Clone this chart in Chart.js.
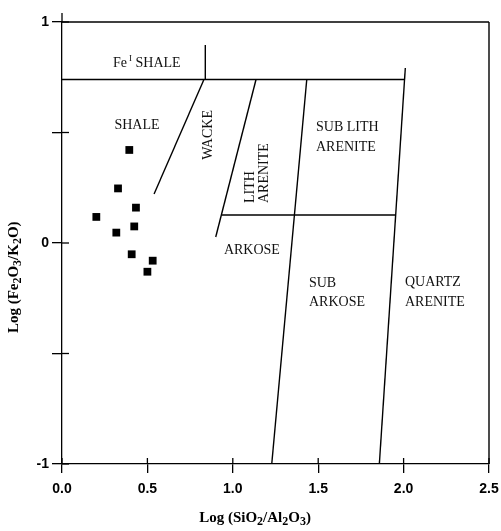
<!DOCTYPE html>
<html><head><meta charset="utf-8">
<script src="https://cdn.jsdelivr.net/npm/chart.js@4/dist/chart.umd.min.js"></script>
<style>html,body{margin:0;padding:0;background:#fff;overflow:hidden}#wrap{width:501px;height:531px}</style>
</head><body><div id="wrap"><canvas id="c" width="501" height="531"></canvas></div>
<script>
// ---- data ----
const sampleX = [0.394, 0.328, 0.433, 0.201, 0.423, 0.318, 0.408, 0.531, 0.500];
const sampleY = [0.421, 0.247, 0.160, 0.118, 0.075, 0.047, -0.051, -0.080, -0.130];
const xTicks = [0, 0.5, 1.0, 1.5, 2.0, 2.5];
const yTicks = [-1, -0.5, 0, 0.5, 1];
const yTickLabels = {"-1": "-1", "0": "0", "1": "1"};
// field boundaries [x1, y1, x2, y2] in data units
const boundaries = [
  [0, 0.74, 2.006, 0.74],
  [0.839, 0.896, 0.839, 0.74],
  [0.831, 0.74, 0.539, 0.222],
  [1.136, 0.74, 0.900, 0.027],
  [0.935, 0.127, 1.953, 0.127],
  [1.433, 0.74, 1.228, -1],
  [2.010, 0.792, 1.858, -1]
];
const frame = [
  [0, 1, 2.5, 1],
  [2.5, 1, 2.5, -1]
];
// field labels: text, x, y, rotated, align
const fieldLabels = [
  ["SHALE", 0.439, 0.534, false, "center"],
  ["WACKE", 0.855, 0.489, true, "center"],
  ["LITH", 1.101, 0.181, true, "left"],
  ["ARENITE", 1.183, 0.181, true, "left"],
  ["SUB LITH", 1.487, 0.525, false, "left"],
  ["ARENITE", 1.487, 0.434, false, "left"],
  ["ARKOSE", 0.948, -0.032, false, "left"],
  ["SUB", 1.446, -0.181, false, "left"],
  ["ARKOSE", 1.446, -0.267, false, "left"],
  ["QUARTZ", 2.008, -0.176, false, "left"],
  ["ARENITE", 2.008, -0.267, false, "left"]
];
const feLabel = {main: "Fe", sup: "I", rest: " SHALE", x: 0.299, y: 0.814};
// axis titles as [text, subscript?] runs
const xTitle = [["Log (SiO", 0], ["2", 1], ["/Al", 0], ["2", 1], ["O", 0], ["3", 1], [")", 0]];
const yTitle = [["Log (Fe", 0], ["2", 1], ["O", 0], ["3", 1], ["/K", 0], ["2", 1], ["O)", 0]];

const segDatasets = boundaries.concat(frame).map(b => ({
  data: [{x: b[0], y: b[1]}, {x: b[2], y: b[3]}],
  showLine: true, borderColor: "#000", borderWidth: 1.4,
  pointRadius: 0, fill: false, clip: false
}));

function runs(ctx, parts, cx, cy) {
  const mainF = "bold 15px 'Liberation Serif'", subF = "bold 12px 'Liberation Serif'";
  let w = 0;
  parts.forEach(p => { ctx.font = p[1] ? subF : mainF; w += ctx.measureText(p[0]).width; });
  let x = cx - w / 2;
  ctx.textAlign = "left";
  parts.forEach(p => {
    ctx.font = p[1] ? subF : mainF;
    ctx.fillText(p[0], x, cy + (p[1] ? 4 : 0));
    x += ctx.measureText(p[0]).width;
  });
}

const labelPlugin = {
  id: "labels",
  afterDraw(chart) {
    const ctx = chart.ctx, xs = chart.scales.x, ys = chart.scales.y;
    const ax = xs.getPixelForValue(0), ay = ys.getPixelForValue(-1);
    ctx.save();
    ctx.strokeStyle = "#000"; ctx.lineWidth = 1.3;
    ctx.beginPath(); ctx.moveTo(ax, ys.getPixelForValue(1)); ctx.lineTo(ax, ys.getPixelForValue(1) - 9); ctx.stroke();
    xTicks.forEach(v => { const p = xs.getPixelForValue(v); ctx.beginPath(); ctx.moveTo(p, ay); ctx.lineTo(p, ay - 6); ctx.stroke(); });
    yTicks.forEach(v => { const p = ys.getPixelForValue(v); ctx.beginPath(); ctx.moveTo(ax, p); ctx.lineTo(ax + 7, p); ctx.stroke(); });
    ctx.fillStyle = "#111";
    ctx.font = "14px 'Liberation Serif'";
    ctx.textBaseline = "middle";
    fieldLabels.forEach(l => {
      const px = xs.getPixelForValue(l[1]), py = ys.getPixelForValue(l[2]);
      ctx.save();
      ctx.translate(px, py);
      if (l[3]) ctx.rotate(-Math.PI / 2);
      ctx.textAlign = l[4];
      ctx.fillText(l[0], 0, 0);
      ctx.restore();
    });
    let fx = xs.getPixelForValue(feLabel.x), fy = ys.getPixelForValue(feLabel.y);
    ctx.textAlign = "left";
    ctx.fillText(feLabel.main, fx, fy); fx += ctx.measureText(feLabel.main).width + 2;
    ctx.font = "9px 'Liberation Serif'";
    ctx.fillText(feLabel.sup, fx, fy - 4); fx += ctx.measureText(feLabel.sup).width;
    ctx.font = "14px 'Liberation Serif'";
    ctx.fillText(feLabel.rest, fx, fy);
    ctx.fillStyle = "#000";
    runs(ctx, xTitle, xs.getPixelForValue(1.13), 518);
    ctx.save();
    ctx.translate(14, ys.getPixelForValue(-0.155));
    ctx.rotate(-Math.PI / 2);
    runs(ctx, yTitle, 0, 0);
    ctx.restore();
    ctx.restore();
  }
};

new Chart(document.getElementById("c"), {
  type: "scatter",
  data: {
    datasets: [{
      data: sampleX.map((x, i) => ({x: x, y: sampleY[i]})),
      pointStyle: "rect", pointRadius: 5.5, backgroundColor: "#000",
      borderColor: "#000", borderWidth: 0, showLine: false
    }].concat(segDatasets)
  },
  options: {
    responsive: false, animation: false,
    layout: {padding: {top: 22, right: 12, left: 0, bottom: 0}},
    plugins: {legend: {display: false}, tooltip: {enabled: false}},
    scales: {
      x: {
        type: "linear", min: 0, max: 2.5,
        afterBuildTicks: s => { s.ticks = xTicks.map(v => ({value: v})); },
        afterFit: s => { s.height = 67; s.paddingLeft = 0; s.paddingRight = 0; },
        ticks: {color: "#000", font: {family: "'Liberation Sans'", size: 14, weight: "bold"},
                padding: 8, maxRotation: 0, autoSkip: false, callback: v => Number(v).toFixed(1)},
        grid: {drawOnChartArea: false, drawTicks: true, tickLength: 9, color: "#000", lineWidth: 1.3},
        border: {color: "#000", width: 1.3}
      },
      y: {
        type: "linear", min: -1, max: 1,
        afterBuildTicks: s => { s.ticks = yTicks.map(v => ({value: v})); },
        afterFit: s => { s.width = 62; s.paddingTop = 0; s.paddingBottom = 0; },
        ticks: {color: "#000", font: {family: "'Liberation Sans'", size: 14, weight: "bold"},
                padding: 3, autoSkip: false, callback: v => (yTickLabels[String(v)] !== undefined ? yTickLabels[String(v)] : "")},
        grid: {drawOnChartArea: false, drawTicks: true, tickLength: 10, color: "#000", lineWidth: 1.3},
        border: {color: "#000", width: 1.3}
      }
    }
  },
  plugins: [labelPlugin]
});
</script></body></html>
